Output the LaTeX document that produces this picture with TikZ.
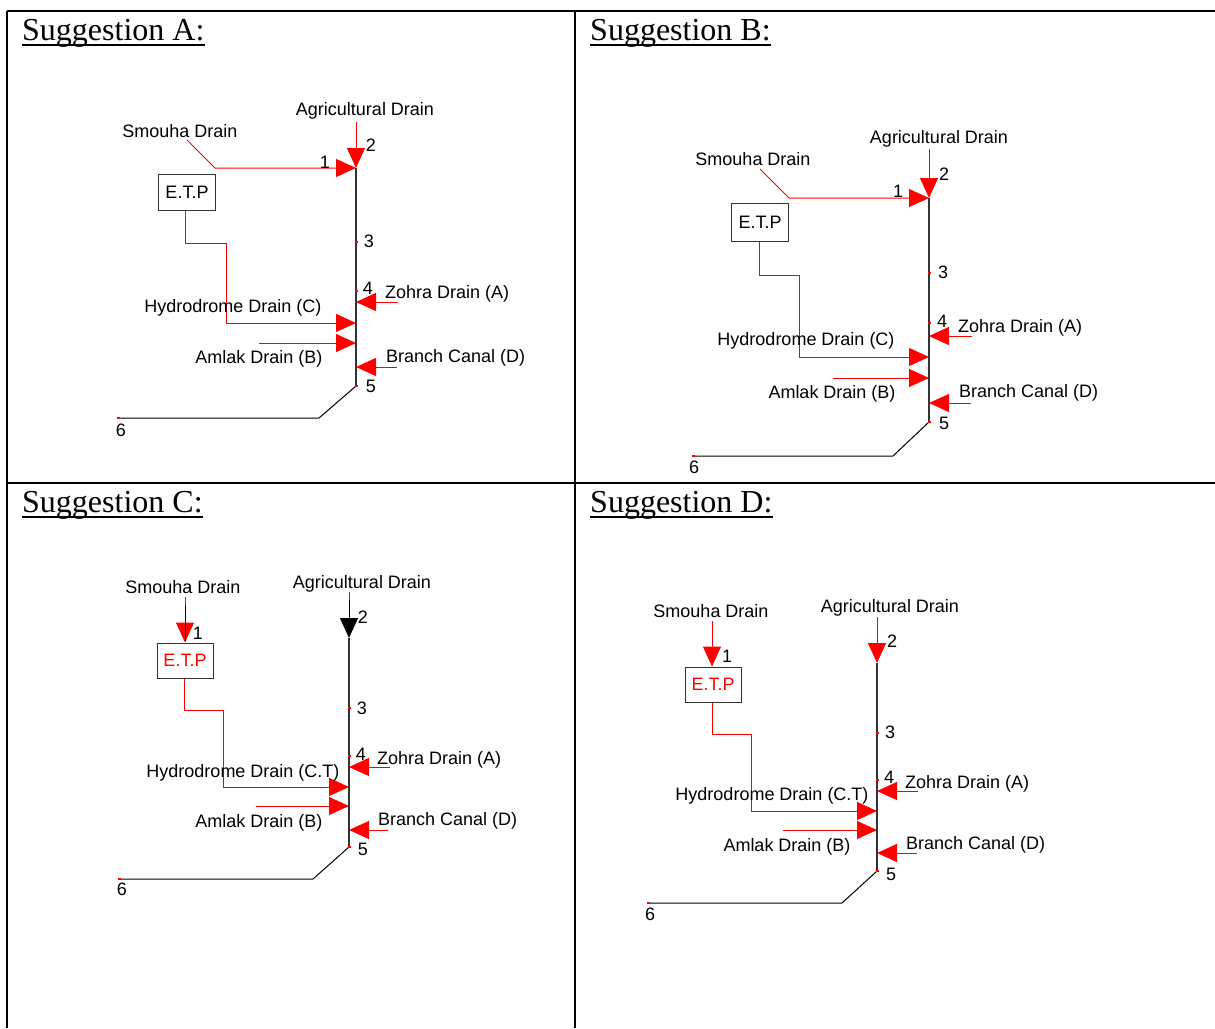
\documentclass[tikz,border=0pt]{standalone}
\usepackage{fontspec}
\setmainfont{Liberation Serif}
\newfontfamily\lblfont{Liberation Sans}
\usetikzlibrary{arrows.meta}
\definecolor{mainln}{HTML}{333333}
\tikzset{
  lbl/.style={inner sep=0pt, yshift=-1.5pt, font=\lblfont\fontsize{18}{21}\selectfont},
  hdr/.style={inner sep=0pt, anchor=base west, font=\fontsize{32}{36}\selectfont},
  etpbox/.style={draw=mainln, line width=1pt, inner sep=0pt, minimum width=57pt, minimum height=36pt, font=\lblfont\fontsize{18}{21}\selectfont},
  redln/.style={draw=red, line width=1pt},
  redarr/.style={draw=red, line width=1pt, -{Triangle[length=20pt,width=18pt]}, red},
  blkarr/.style={draw=mainln, line width=1pt, -{Triangle[length=20pt,width=18pt]}, black},
  mainl/.style={draw=mainln, line width=1.5pt},
  thinl/.style={draw=black, line width=1pt},
  tick/.style={draw=red, line width=1.5pt},
  border/.style={draw=black, line width=2pt}
}
\begin{document}
\begin{tikzpicture}[x=1pt,y=-1pt]
\useasboundingbox (0,0) rectangle (1215,1028);
\fill[white] (0,0) rectangle (1215,1028);
% table borders
\coordinate (tl) at (7,11); \coordinate (tr) at (1215,11);
\coordinate (bl) at (7,1028); \coordinate (tm) at (575,11); \coordinate (bm) at (575,1028);
\coordinate (ml) at (7,483); \coordinate (mr) at (1215,483);
\draw[border] (tl) -- (tr);
\draw[border] (tl) -- (bl);
\draw[border, line width=1.5pt] (tm) -- (bm);
\draw[border] (ml) -- (mr);
% headings
\node[hdr] (hA) at (22,40) {Suggestion A:};
\node[hdr] (hB) at (590,40) {Suggestion B:};
\node[hdr] (hC) at (22,512) {Suggestion C:};
\node[hdr] (hD) at (590,512) {Suggestion D:};
\foreach \h in {hA,hB,hC,hD}{
  \draw[line width=1.5pt] ([yshift=-5pt]\h.base west) -- ([yshift=-5pt]\h.base east);
}

% ================= Suggestion A =================
\coordinate (Aj) at (356,168); \coordinate (Aag) at (356,122);
\coordinate (Asm0) at (187,140); \coordinate (Asm1) at (215,168);
\node[etpbox] (Aetp) at (187,192.5) {E.T.P};
\coordinate (Ah1) at (185,243); \coordinate (Ah2) at (226,243); \coordinate (Ah3) at (226,323); \coordinate (Ahj) at (356,323);
\coordinate (A5) at (356,386); \coordinate (Abend) at (319,418); \coordinate (A6) at (117,418);
\coordinate (Azt) at (398,302); \coordinate (Azj) at (356,302);
\coordinate (Aat) at (259,343); \coordinate (Aaj) at (356,343);
\coordinate (Abt) at (397,367); \coordinate (Abj) at (356,367);
\draw[mainl] (Aj) -- (A5);
\draw[thinl] (A5) -- (Abend) -- (A6);
\draw[redarr] (Aag) -- (Aj);
\draw[redarr] (Asm0) -- (Asm1) -- (Aj);
\draw[redarr] (Ah1 |- Aetp.south) -- (Ah1) -- (Ah2) -- (Ah3) -- (Ahj);
\draw[redarr] (Azt) -- (Azj);
\draw[redarr] (Aat) -- (Aaj);
\draw[redarr] (Abt) -- (Abj);
\draw[tick] (355,242) -- (358,242);
\draw[tick] (355,291) -- (358,291);
\draw[tick] (355,386) -- (358,386);
\draw[tick] (117,418) -- (120,418);
\node[lbl] (Aagl) at (365,109) {Agricultural Drain};
\node[lbl] (Asml) at (180,130) {Smouha Drain};
\node[lbl] (An1) at (325,161) {1};
\node[lbl] (An2) at (371,144) {2};
\node[lbl] (An3) at (369,240) {3};
\node[lbl] (An4) at (368,287) {4};
\node[lbl] (An5) at (371,385) {5};
\node[lbl] (An6) at (121,429) {6};
\node[lbl, anchor=west] (Azl) at (385,292) {Zohra Drain (A)};
\node[lbl] (Ahl) at (233,306) {Hydrodrome Drain (C)};
\node[lbl] (Aal) at (259,357) {Amlak Drain (B)};
\node[lbl, anchor=west] (Abl) at (386,356) {Branch Canal (D)};

% ================= Suggestion B =================
\coordinate (Bj) at (929,198); \coordinate (Bag) at (929,149);
\coordinate (Bsm0) at (760,169); \coordinate (Bsm1) at (789,198);
\node[etpbox, minimum height=38pt] (Betp) at (760,222) {E.T.P};
\coordinate (Bh1) at (759,275); \coordinate (Bh2) at (799,275); \coordinate (Bh3) at (799,357); \coordinate (Bhj) at (929,357);
\coordinate (B5) at (929,422); \coordinate (Bbend) at (893,456); \coordinate (B6) at (692,456);
\coordinate (Bzt) at (972,336); \coordinate (Bzj) at (929,336);
\coordinate (Bat) at (833,378); \coordinate (Baj) at (929,378);
\coordinate (Bbt) at (971,403); \coordinate (Bbj) at (929,403);
\draw[mainl] (Bj) -- (B5);
\draw[thinl] (B5) -- (Bbend) -- (B6);
\draw[redarr] (Bag) -- (Bj);
\draw[redarr] (Bsm0) -- (Bsm1) -- (Bj);
\draw[redarr] (Bh1 |- Betp.south) -- (Bh1) -- (Bh2) -- (Bh3) -- (Bhj);
\draw[redarr] (Bzt) -- (Bzj);
\draw[redarr] (Bat) -- (Baj);
\draw[redarr] (Bbt) -- (Bbj);
\draw[tick] (928,273) -- (931,273);
\draw[tick] (928,323) -- (931,323);
\draw[tick] (928,422) -- (931,422);
\draw[tick] (692,456) -- (695,456);
\node[lbl] (Bagl) at (939,137) {Agricultural Drain};
\node[lbl] (Bsml) at (753,158) {Smouha Drain};
\node[lbl] (Bn1) at (898,190) {1};
\node[lbl] (Bn2) at (944,173) {2};
\node[lbl] (Bn3) at (943,271) {3};
\node[lbl] (Bn4) at (942,320) {4};
\node[lbl] (Bn5) at (944,422) {5};
\node[lbl] (Bn6) at (694,466) {6};
\node[lbl, anchor=west] (Bzl) at (958,326) {Zohra Drain (A)};
\node[lbl] (Bhl) at (806,339) {Hydrodrome Drain (C)};
\node[lbl] (Bal) at (832,392) {Amlak Drain (B)};
\node[lbl, anchor=west] (Bbl) at (959,391) {Branch Canal (D)};

% ================= Suggestion C =================
\coordinate (Cj) at (349,638); \coordinate (Cag) at (349,592); \coordinate (Cagm) at (349,600);
\coordinate (Csm) at (185,597); \coordinate (Csmm) at (185,606);
\node[etpbox, text=red, minimum width=56pt, minimum height=35pt] (Cetp) at (185,660.5) {E.T.P};
\coordinate (Ch1) at (184,710); \coordinate (Ch2) at (223,710); \coordinate (Ch3) at (223,787); \coordinate (Chj) at (349,787);
\coordinate (C5) at (349,847); \coordinate (Cbend) at (313,879); \coordinate (C6) at (118,879);
\coordinate (Czt) at (390,767); \coordinate (Czj) at (349,767);
\coordinate (Cat) at (256,806); \coordinate (Caj) at (349,806);
\coordinate (Cbt) at (388,830); \coordinate (Cbj) at (349,830);
\draw[mainl] (Cj) -- (C5);
\draw[thinl] (C5) -- (Cbend) -- (C6);
\draw[redln] (Cag) -- (Cagm);
\draw[blkarr] (Cagm) -- (Cj);
\draw[redarr] (Csm) -- (Cetp.north);
\draw[thinl, shorten >=2pt] (Csmm) -- (Cetp.north);
\draw[redarr] (Ch1 |- Cetp.south) -- (Ch1) -- (Ch2) -- (Ch3) -- (Chj);
\draw[redarr] (Czt) -- (Czj);
\draw[redarr] (Cat) -- (Caj);
\draw[redarr] (Cbt) -- (Cbj);
\draw[tick] (348,708) -- (351,708);
\draw[tick] (348,756) -- (351,756);
\draw[tick] (348,847) -- (351,847);
\draw[tick] (118,879) -- (121,879);
\node[lbl] (Cagl) at (362,582) {Agricultural Drain};
\node[lbl] (Csml) at (183,586) {Smouha Drain};
\node[lbl] (Cn1) at (198,632) {1};
\node[lbl] (Cn2) at (363,616) {2};
\node[lbl] (Cn3) at (362,707) {3};
\node[lbl] (Cn4) at (361,753) {4};
\node[lbl] (Cn5) at (363,848) {5};
\node[lbl] (Cn6) at (122,888) {6};
\node[lbl, anchor=west] (Czl) at (377,758) {Zohra Drain (A)};
\node[lbl] (Chl) at (243,771) {Hydrodrome Drain (C.T)};
\node[lbl] (Cal) at (259,821) {Amlak Drain (B)};
\node[lbl, anchor=west] (Cbl) at (378,819) {Branch Canal (D)};

% ================= Suggestion D =================
\coordinate (Dj) at (877,663); \coordinate (Dag) at (877,617);
\coordinate (Dsm) at (712,621);
\node[etpbox, text=red, minimum width=56pt, minimum height=35pt] (Detp) at (713,684.5) {E.T.P};
\coordinate (Dh1) at (712,734); \coordinate (Dh2) at (751,734); \coordinate (Dh3) at (751,811); \coordinate (Dhj) at (877,811);
\coordinate (D5) at (877,871); \coordinate (Dbend) at (842,903); \coordinate (D6) at (647,903);
\coordinate (Dzt) at (918,791); \coordinate (Dzj) at (877,791);
\coordinate (Dat) at (783,830); \coordinate (Daj) at (877,830);
\coordinate (Dbt) at (917,853); \coordinate (Dbj) at (877,853);
\draw[mainl] (Dj) -- (D5);
\draw[thinl] (D5) -- (Dbend) -- (D6);
\draw[redarr] (Dag) -- (Dj);
\draw[redarr] (Dsm) -- (Dsm |- Detp.north);
\draw[redarr] (Dh1 |- Detp.south) -- (Dh1) -- (Dh2) -- (Dh3) -- (Dhj);
\draw[redarr] (Dzt) -- (Dzj);
\draw[redarr] (Dat) -- (Daj);
\draw[redarr] (Dbt) -- (Dbj);
\draw[tick] (876,733) -- (879,733);
\draw[tick] (876,780) -- (879,780);
\draw[tick] (876,871) -- (879,871);
\draw[tick] (647,903) -- (650,903);
\node[lbl] (Dagl) at (890,606) {Agricultural Drain};
\node[lbl] (Dsml) at (711,610) {Smouha Drain};
\node[lbl] (Dn1) at (727,655) {1};
\node[lbl] (Dn2) at (892,640) {2};
\node[lbl] (Dn3) at (890,731) {3};
\node[lbl] (Dn4) at (889,776) {4};
\node[lbl] (Dn5) at (891,873) {5};
\node[lbl] (Dn6) at (650,913) {6};
\node[lbl, anchor=west] (Dzl) at (905,782) {Zohra Drain (A)};
\node[lbl] (Dhl) at (772,794) {Hydrodrome Drain (C.T)};
\node[lbl] (Dal) at (787,845) {Amlak Drain (B)};
\node[lbl, anchor=west] (Dbl) at (906,843) {Branch Canal (D)};
\end{tikzpicture}
\end{document}
